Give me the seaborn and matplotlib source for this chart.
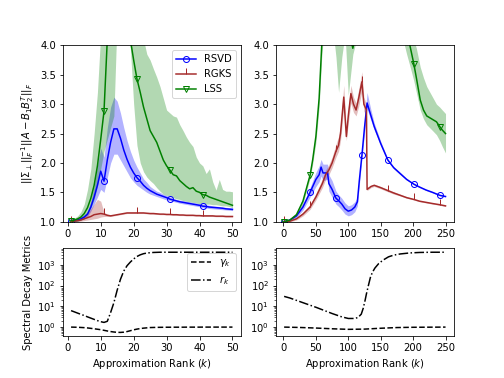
import numpy as np
import matplotlib
matplotlib.use("Agg")
import matplotlib.pyplot as plt
from matplotlib.ticker import MultipleLocator
import seaborn as sns

# ---- left column: k = 1..50 ----
k_small = list(range(1, 51))

rsvd_l = [1.02, 1.02, 1.03, 1.05, 1.08, 1.13, 1.25, 1.42, 1.62, 1.86,
          1.69, 2.05, 2.35, 2.58, 2.58, 2.42, 2.22, 2.06, 1.93, 1.83,
          1.75, 1.69, 1.62, 1.57, 1.53, 1.5, 1.47, 1.45, 1.43, 1.41,
          1.385, 1.37, 1.355, 1.34, 1.33, 1.32, 1.31, 1.3, 1.29, 1.28,
          1.265, 1.26, 1.25, 1.245, 1.24, 1.235, 1.23, 1.22, 1.215, 1.21]
rsvd_l_hi = [1.03, 1.04, 1.06, 1.08, 1.12, 1.18, 1.35, 1.6, 1.95, 2.25,
             2.1, 2.6, 2.95, 3.12, 3.05, 2.85, 2.6, 2.38, 2.2, 2.05,
             1.93, 1.83, 1.73, 1.67, 1.6, 1.56, 1.52, 1.5, 1.47, 1.45,
             1.42, 1.4, 1.38, 1.37, 1.36, 1.35, 1.34, 1.33, 1.32, 1.31,
             1.3, 1.29, 1.28, 1.27, 1.265, 1.26, 1.25, 1.245, 1.24, 1.235]
rsvd_l_lo = [1.0, 1.0, 1.01, 1.03, 1.05, 1.09, 1.18, 1.3, 1.42, 1.55,
             1.5, 1.75, 2.0, 2.15, 2.15, 2.05, 1.95, 1.85, 1.75, 1.68,
             1.62, 1.58, 1.54, 1.5, 1.47, 1.45, 1.43, 1.41, 1.39, 1.37,
             1.36, 1.345, 1.33, 1.315, 1.305, 1.295, 1.285, 1.275, 1.265, 1.255,
             1.24, 1.235, 1.225, 1.22, 1.215, 1.21, 1.205, 1.2, 1.195, 1.19]

rgks_l = [1.0, 1.01, 1.02, 1.03, 1.05, 1.07, 1.09, 1.12, 1.13, 1.14,
          1.13, 1.11, 1.1, 1.11, 1.12, 1.13, 1.14, 1.15, 1.15, 1.15,
          1.15, 1.15, 1.15, 1.145, 1.14, 1.14, 1.135, 1.13, 1.13, 1.125,
          1.125, 1.12, 1.12, 1.115, 1.115, 1.11, 1.11, 1.11, 1.105, 1.105,
          1.1, 1.1, 1.1, 1.1, 1.095, 1.095, 1.095, 1.09, 1.09, 1.09]
rgks_l_hi = [1.0, 1.02, 1.04, 1.07, 1.1, 1.15, 1.22, 1.3, 1.38, 1.35,
             1.16, 1.13, 1.12, 1.12, 1.13, 1.14, 1.15, 1.16, 1.16, 1.16,
             1.16, 1.16, 1.16, 1.155, 1.15, 1.15, 1.145, 1.14, 1.14, 1.135,
             1.135, 1.13, 1.13, 1.125, 1.125, 1.12, 1.12, 1.12, 1.115, 1.115,
             1.11, 1.11, 1.11, 1.11, 1.105, 1.105, 1.105, 1.1, 1.1, 1.1]
rgks_l_lo = [1.0, 1.0, 1.0, 1.01, 1.02, 1.03, 1.04, 1.05, 1.06, 1.08,
             1.09, 1.09, 1.09, 1.1, 1.11, 1.12, 1.13, 1.14, 1.14, 1.14,
             1.14, 1.14, 1.14, 1.135, 1.13, 1.13, 1.125, 1.12, 1.12, 1.115,
             1.115, 1.11, 1.11, 1.105, 1.105, 1.1, 1.1, 1.1, 1.095, 1.095,
             1.09, 1.09, 1.09, 1.09, 1.085, 1.085, 1.085, 1.08, 1.08, 1.08]

lss_l = [1.02, 1.03, 1.05, 1.08, 1.14, 1.24, 1.4, 1.62, 1.95, 2.4,
         2.88, 4.1, 4.8, 5.4, 5.8, 5.6, 5.1, 4.6, 4.1, 3.75,
         3.43, 3.2, 2.95, 2.75, 2.55, 2.45, 2.35, 2.2, 2.05, 1.95,
         1.88, 1.8, 1.78, 1.7, 1.65, 1.6, 1.56, 1.58, 1.52, 1.5,
         1.46, 1.45, 1.42, 1.4, 1.38, 1.36, 1.34, 1.32, 1.3, 1.28]
lss_l_hi = [1.04, 1.06, 1.1, 1.17, 1.3, 1.55, 1.9, 2.5, 3.2, 4.2,
            5.0, 5.5, 6.0, 6.5, 6.5, 6.5, 6.5, 6.5, 6.5, 6.5,
            6.0, 5.0, 4.1, 3.85, 3.75, 3.6, 3.46, 3.3, 3.1, 2.9,
            2.85, 2.8, 2.78, 2.65, 2.55, 2.44, 2.35, 2.28, 2.1, 2.0,
            1.95, 1.82, 1.9, 1.68, 1.54, 1.72, 1.55, 1.52, 1.52, 1.51]
lss_l_lo = [1.0, 1.0, 1.01, 1.03, 1.07, 1.13, 1.24, 1.38, 1.6, 1.9,
            2.2, 2.4, 2.6, 2.8, 4.5, 4.8, 4.6, 4.3, 3.95, 3.0,
            2.3, 2.0, 1.85, 1.76, 1.7, 1.65, 1.58, 1.52, 1.47, 1.45,
            1.43, 1.41, 1.39, 1.38, 1.36, 1.35, 1.34, 1.33, 1.32, 1.31,
            1.31, 1.3, 1.3, 1.29, 1.29, 1.28, 1.27, 1.27, 1.26, 1.24]

gamma_l = [1.0, 0.99, 0.98, 0.96, 0.94, 0.91, 0.87, 0.83, 0.79, 0.75,
           0.7, 0.65, 0.61, 0.58, 0.56, 0.555, 0.57, 0.61, 0.67, 0.74,
           0.8, 0.85, 0.89, 0.92, 0.95, 0.96, 0.97, 0.975, 0.98, 0.985,
           0.985, 0.99, 0.99, 0.99, 0.99, 0.995, 0.995, 0.995, 0.995, 0.995,
           1.0, 1.0, 1.0, 1.0, 1.0, 1.0, 1.0, 1.0, 1.0, 1.0]
r_l = [6.2, 5.4, 4.7, 4.1, 3.6, 3.1, 2.7, 2.35, 2.05, 1.82,
       1.68, 1.9, 5.0, 15, 60, 200, 500, 900, 1350, 1900,
       2500, 3000, 3400, 3650, 3800, 3900, 3950, 4000, 4000, 4000,
       4000, 4000, 4000, 4000, 4000, 4000, 4000, 4000, 4000, 4000,
       4000, 4000, 4000, 4000, 4000, 4000, 4000, 4000, 4000, 4000]

# ---- right column: k = 1..250 (read at the visible vertices) ----
k_rsvd_r = [1, 10, 20, 30, 41, 50, 55, 58, 61, 68, 70, 75, 81, 85, 90, 95, 100, 105, 110,
            114, 117, 121, 125, 129, 135, 140, 150, 161, 170, 180, 190, 201, 210, 220, 230, 241, 250]
rsvd_r = [1.0, 1.03, 1.1, 1.25, 1.5, 1.72, 1.8, 1.93, 1.83, 1.83, 1.65, 1.55, 1.40, 1.36, 1.3,
          1.22, 1.18, 1.2, 1.25, 1.34, 1.7, 2.13, 2.6, 3.02, 2.8, 2.62, 2.33, 2.05, 1.92, 1.82,
          1.72, 1.64, 1.59, 1.54, 1.5, 1.45, 1.43]
rsvd_r_lo = [1.0, 1.02, 1.07, 1.2, 1.42, 1.6, 1.68, 1.78, 1.7, 1.72, 1.52, 1.42, 1.3, 1.26, 1.2,
             1.13, 1.1, 1.12, 1.17, 1.27, 1.62, 2.07, 2.5, 2.92, 2.72, 2.56, 2.3, 2.03, 1.9, 1.8,
             1.71, 1.63, 1.58, 1.53, 1.49, 1.44, 1.42]
rsvd_r_hi = [1.01, 1.05, 1.13, 1.3, 1.58, 1.84, 1.95, 2.06, 1.98, 1.98, 1.8, 1.7, 1.52, 1.46, 1.4,
             1.32, 1.27, 1.29, 1.34, 1.42, 1.78, 2.2, 2.72, 3.2, 2.9, 2.68, 2.37, 2.07, 1.94, 1.84,
             1.74, 1.65, 1.6, 1.55, 1.51, 1.46, 1.44]

k_rgks_r = [1, 10, 20, 30, 41, 50, 60, 65, 70, 75, 81, 85, 88, 90, 93, 97, 100, 104, 108, 112,
            116, 121, 124, 128, 129, 135, 140, 150, 161, 170, 180, 190, 201, 210, 220, 230, 241, 250]
rgks_r = [1.0, 1.01, 1.05, 1.13, 1.25, 1.42, 1.65, 1.8, 1.88, 2.0, 2.2, 2.3, 2.5, 2.75, 3.12,
          2.45, 2.8, 3.18, 3.0, 2.9, 3.1, 3.38, 3.0, 2.9, 1.55, 1.6, 1.62, 1.58, 1.53, 1.49,
          1.45, 1.41, 1.38, 1.35, 1.33, 1.31, 1.29, 1.27]
rgks_r_lo = [1.0, 1.0, 1.03, 1.1, 1.21, 1.37, 1.58, 1.72, 1.8, 1.92, 2.1, 2.2, 2.38, 2.6, 2.95,
             2.38, 2.68, 3.02, 2.86, 2.8, 2.96, 3.22, 2.88, 2.8, 1.53, 1.58, 1.6, 1.56, 1.51, 1.47,
             1.44, 1.40, 1.37, 1.34, 1.32, 1.30, 1.28, 1.26]
rgks_r_hi = [1.02, 1.03, 1.07, 1.16, 1.29, 1.48, 1.73, 1.88, 1.97, 2.1, 2.32, 2.45, 2.65, 2.92, 3.32,
             2.55, 2.95, 3.32, 3.12, 3.02, 3.25, 3.55, 3.12, 3.0, 1.58, 1.62, 1.64, 1.6, 1.55, 1.51,
             1.47, 1.43, 1.39, 1.36, 1.34, 1.32, 1.30, 1.28]

k_lss_r = [1, 10, 20, 30, 41, 45, 50, 55, 59, 65, 75, 81, 85, 90, 95, 100, 104, 107, 110, 121,
           140, 161, 180, 190, 195, 201, 205, 211, 216, 221, 230, 236, 241, 245, 250]
lss_r = [1.0, 1.03, 1.12, 1.35, 1.79, 2.05, 2.45, 3.1, 4.0, 5.0, 5.5, 5.2, 4.8, 4.6, 4.5,
         4.4, 4.1, 3.95, 4.1, 5.0, 6.0, 5.8, 5.0, 4.4, 4.0, 3.69, 3.45, 3.07, 2.9, 2.8,
         2.74, 2.70, 2.62, 2.56, 2.5]
lss_r_lo = [1.0, 1.02, 1.1, 1.3, 1.74, 1.98, 2.35, 2.95, 3.8, 4.6, 4.4, 3.8, 3.2, 3.8, 4.2,
            3.15, 3.55, 3.85, 3.98, 4.6, 5.5, 5.3, 4.3, 3.85, 3.65, 3.4, 3.2, 2.9, 2.75, 2.65,
            2.55, 2.48, 2.38, 2.28, 2.17]
lss_r_hi = [1.01, 1.05, 1.15, 1.4, 1.85, 2.12, 2.55, 3.25, 4.2, 5.5, 6.0, 6.0, 6.0, 6.0, 6.0,
            6.0, 6.0, 6.0, 6.0, 6.0, 6.5, 6.3, 6.0, 5.0, 4.5, 4.1, 3.95, 3.63, 3.45, 3.3,
            3.12, 3.0, 2.95, 2.9, 2.84]

k_gamma_r = [1, 25, 50, 75, 100, 125, 150, 175, 200, 225, 250]
gamma_r = [1.0, 0.96, 0.9, 0.83, 0.78, 0.8, 0.88, 0.95, 0.98, 0.99, 1.0]
k_r_r = [1, 10, 25, 50, 75, 90, 100, 110, 115, 120, 123, 126, 128, 131, 134, 137, 141, 147,
         154, 162, 170, 180, 195, 210, 230, 250]
r_r = [30, 25, 17, 9, 4.5, 3.1, 2.6, 2.6, 2.9, 4.2, 8, 20, 40, 100, 240, 420, 690, 1150,
       1700, 2400, 2900, 3300, 3700, 3900, 4000, 4000]

marks_r = [1, 41, 81, 121, 161, 201, 241]


def idx(ks, marks):
    return [ks.index(m) for m in marks if m in ks]


fig = plt.figure(figsize=(7, 5.25), dpi=72)
axes = fig.subplots(2, 2, gridspec_kw={"height_ratios": [2, 1]})
ax_tl, ax_tr = axes[0]
ax_bl, ax_br = axes[1]

style = {
    "RSVD": dict(color="b", marker="o", ms=6),
    "RGKS": dict(color="brown", marker=2, ms=6),
    "LSS": dict(color="green", marker="v", ms=6),
}

left = [("RSVD", rsvd_l, rsvd_l_lo, rsvd_l_hi),
        ("RGKS", rgks_l, rgks_l_lo, rgks_l_hi),
        ("LSS", lss_l, lss_l_lo, lss_l_hi)]
for name, m, lo, hi in left:
    ax_tl.fill_between(k_small, lo, hi, color=style[name]["color"], alpha=0.3, lw=0)
for name, m, lo, hi in left:
    s = style[name]
    sns.lineplot(x=k_small, y=m, ax=ax_tl, color=s["color"], marker=s["marker"], markersize=s["ms"],
                 markerfacecolor="none", markeredgecolor=s["color"], markeredgewidth=1.0,
                 markevery=10, label=name, errorbar=None, lw=1.5)
ax_tl.legend(loc="upper right")
ax_tl.set_ylim(1, 4)
ax_tl.set_ylabel(r"$||\Sigma_\perp||_F^{-1}||A - B_1B_2^T||_F$")

right = [("RSVD", k_rsvd_r, rsvd_r, rsvd_r_lo, rsvd_r_hi),
         ("RGKS", k_rgks_r, rgks_r, rgks_r_lo, rgks_r_hi),
         ("LSS", k_lss_r, lss_r, lss_r_lo, lss_r_hi)]
for name, ks, m, lo, hi in right:
    ax_tr.fill_between(ks, lo, hi, color=style[name]["color"], alpha=0.3, lw=0)
for name, ks, m, lo, hi in right:
    s = style[name]
    sns.lineplot(x=ks, y=m, ax=ax_tr, color=s["color"], marker=s["marker"], markersize=s["ms"],
                 markerfacecolor="none", markeredgecolor=s["color"], markeredgewidth=1.0,
                 markevery=idx(ks, marks_r), errorbar=None, lw=1.5, legend=False)
ax_tr.set_ylim(1, 4)

sns.lineplot(x=k_small, y=gamma_l, ax=ax_bl, color="k", ls="--", lw=1.5, label=r"$\gamma_k$", errorbar=None)
sns.lineplot(x=k_small, y=r_l, ax=ax_bl, color="k", ls="-.", lw=1.5, label=r"$r_k$", errorbar=None)
ax_bl.set_yscale("log")
ax_bl.legend(loc="upper right")
ax_bl.set_ylabel("Spectral Decay Metrics")
ax_bl.set_xlabel("Approximation Rank ($k$)")

sns.lineplot(x=k_gamma_r, y=gamma_r, ax=ax_br, color="k", ls="--", lw=1.5, errorbar=None, legend=False)
sns.lineplot(x=k_r_r, y=r_r, ax=ax_br, color="k", ls="-.", lw=1.5, errorbar=None, legend=False)
ax_br.set_yscale("log")
ax_br.sharey(ax_bl)
ax_br.set_xlabel("Approximation Rank ($k$)")

for ax in (ax_tl, ax_bl):
    ax.xaxis.set_major_locator(MultipleLocator(10))
for ax in (ax_tr, ax_br):
    ax.xaxis.set_major_locator(MultipleLocator(50))
ax_tl.set_xlim(ax_bl.get_xlim())
ax_tr.set_xlim(ax_br.get_xlim())

fig.savefig("out.png", dpi=72)
